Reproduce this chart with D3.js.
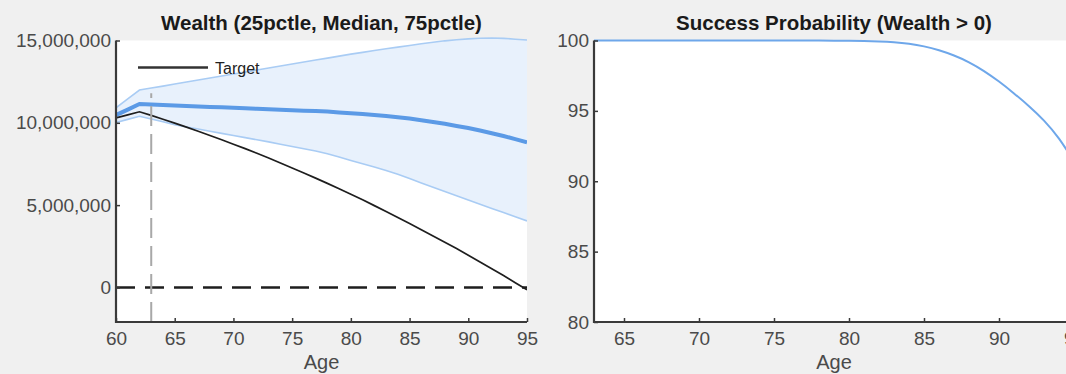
<!DOCTYPE html>
<html>
<head>
<meta charset="utf-8">
<script src="https://cdn.jsdelivr.net/npm/d3@7"></script>
<style>
  html, body { margin: 0; padding: 0; background: #f0f0f0; }
  svg { display: block; font-family: "Liberation Sans", Arial, sans-serif; }
</style>
</head>
<body>
<svg id="chart" width="1066" height="374"></svg>
<script>
// ---------------- DATA ----------------
const ages = [60,61,62,63,64,65,66,67,68,69,70,71,72,73,74,75,76,77,78,79,80,81,82,83,84,85,86,87,88,89,90,91,92,93,94,95];
// wealth in millions
const wealthP75 = [10.91,11.45,11.99,12.11,12.23,12.36,12.48,12.60,12.72,12.84,12.96,13.08,13.21,13.33,13.45,13.57,13.69,13.82,13.93,14.05,14.17,14.28,14.39,14.50,14.60,14.70,14.80,14.89,14.98,15.05,15.10,15.14,15.15,15.13,15.08,15.03];
const wealthMedian = [10.47,10.80,11.14,11.11,11.08,11.05,11.02,10.99,10.96,10.94,10.91,10.88,10.85,10.83,10.80,10.77,10.74,10.71,10.68,10.63,10.58,10.53,10.47,10.41,10.34,10.26,10.16,10.05,9.94,9.81,9.68,9.53,9.37,9.20,9.01,8.81];
const wealthP25 = [10.02,10.21,10.40,10.23,10.06,9.89,9.75,9.62,9.49,9.36,9.23,9.10,8.97,8.84,8.70,8.56,8.42,8.29,8.12,7.92,7.71,7.51,7.31,7.10,6.87,6.61,6.35,6.09,5.83,5.57,5.31,5.06,4.80,4.55,4.30,4.04];
const target = [10.30,10.48,10.67,10.45,10.22,9.98,9.74,9.49,9.23,8.97,8.70,8.43,8.15,7.86,7.56,7.26,6.95,6.64,6.32,5.99,5.66,5.32,4.97,4.61,4.25,3.89,3.51,3.13,2.75,2.36,1.96,1.55,1.14,0.72,0.29,-0.14];
const successAges = [63,64,65,66,67,68,69,70,71,72,73,74,75,76,77,78,79,80,81,82,83,84,85,86,87,88,89,90,91,92,93,94,95];
const successProb = [100,100,100,100,100,100,100,100,100,100,100,100,100,100,100,100,99.99,99.98,99.96,99.93,99.88,99.78,99.60,99.32,98.95,98.48,97.85,97.10,96.25,95.35,94.35,93.10,91.40];
const retirementAge = 63;
const wealthTicks = [0, 5e6, 10e6, 15e6];
const ageTicksLeft = [60,65,70,75,80,85,90,95];
const probTicks = [80,85,90,95,100];
const ageTicksRight = [65,70,75,80,85,90,95];
const titleLeft = "Wealth (25pctle, Median, 75pctle)";
const titleRight = "Success Probability (Wealth > 0)";
const xLabel = "Age";
const legendLabel = "Target";

// ---------------- DRAW ----------------
const svg = d3.select("#chart");
svg.append("rect").attr("width",1066).attr("height",374).attr("fill","#f0f0f0");

const M = 1e6;
const axisColor = "#3a3a3a";
const tickTextColor = "#4a4a4a";

// Left panel
const xL = d3.scaleLinear().domain([60,95]).range([116,527]);
const yL = d3.scaleLinear().domain([-2.1e6,15e6]).range([322,40.5]);

const defs = svg.append("defs");
defs.append("clipPath").attr("id","clipL").append("rect")
  .attr("x",116).attr("y",30).attr("width",411).attr("height",292);

const gL = svg.append("g");
gL.append("rect").attr("x",116).attr("y",40.5).attr("width",411).attr("height",281.5).attr("fill","#ffffff");

const band = ages.map((a,i)=>({a, lo:wealthP25[i]*M, hi:wealthP75[i]*M, med:wealthMedian[i]*M, t:target[i]*M}));
const plot = gL.append("g").attr("clip-path","url(#clipL)");
plot.append("path").datum(band)
  .attr("d", d3.area().x(d=>xL(d.a)).y0(d=>yL(d.lo)).y1(d=>yL(d.hi)))
  .attr("fill","#e8f1fc");
plot.append("path").datum(band)
  .attr("d", d3.line().x(d=>xL(d.a)).y(d=>yL(d.hi)))
  .attr("fill","none").attr("stroke","#a9ccf4").attr("stroke-width",1.6);
plot.append("path").datum(band)
  .attr("d", d3.line().x(d=>xL(d.a)).y(d=>yL(d.lo)))
  .attr("fill","none").attr("stroke","#a9ccf4").attr("stroke-width",1.6);
plot.append("path").datum(band)
  .attr("d", d3.line().x(d=>xL(d.a)).y(d=>yL(d.med)))
  .attr("fill","none").attr("stroke","#5b9ae6").attr("stroke-width",4);
plot.append("path").datum(band)
  .attr("d", d3.line().x(d=>xL(d.a)).y(d=>yL(d.t)))
  .attr("fill","none").attr("stroke","#1e1e1e").attr("stroke-width",1.7);
// zero dashed line
plot.append("line")
  .attr("x1",xL(60)).attr("x2",xL(95)).attr("y1",yL(0)).attr("y2",yL(0))
  .attr("stroke","#1e1e1e").attr("stroke-width",2.4).attr("stroke-dasharray","19,10");
// retirement vertical dashed
plot.append("line")
  .attr("x1",xL(retirementAge)).attr("x2",xL(retirementAge))
  .attr("y1",yL(-2.1e6)).attr("y2",yL(11.8e6))
  .attr("stroke","#a8a8a8").attr("stroke-width",2).attr("stroke-dasharray","20,8");

// legend
gL.append("line").attr("x1",138).attr("x2",208).attr("y1",67.5).attr("y2",67.5)
  .attr("stroke","#333").attr("stroke-width",2.4);
gL.append("text").attr("x",215).attr("y",73.5).attr("font-size",16).attr("fill","#222").text(legendLabel);

// axes left
const axL = gL.append("g").attr("transform","translate(116,0)")
  .call(d3.axisLeft(yL).tickValues(wealthTicks).tickFormat(d3.format(",")).tickSize(-4).tickPadding(5));
const axBL = gL.append("g").attr("transform","translate(0,322)")
  .call(d3.axisBottom(xL).tickValues(ageTicksLeft).tickSize(-4).tickPadding(7));
[axL, axBL].forEach(ax=>{
  ax.select(".domain").remove();
  ax.selectAll(".tick line").attr("stroke",axisColor).attr("stroke-width",1.5);
  ax.selectAll(".tick text").attr("fill",tickTextColor).attr("font-size",19).attr("font-family","Liberation Sans, Arial, sans-serif");
});
axBL.selectAll(".tick text").attr("dy","0.85em");
gL.append("line").attr("x1",116).attr("x2",116).attr("y1",40.5).attr("y2",323).attr("stroke",axisColor).attr("stroke-width",2.2);
gL.append("line").attr("x1",115).attr("x2",527).attr("y1",322).attr("y2",322).attr("stroke",axisColor).attr("stroke-width",2.2);

gL.append("text").attr("x",(116+527)/2).attr("y",30).attr("text-anchor","middle")
  .attr("font-size",20.5).attr("font-weight","bold").attr("fill","#1a1a1a").text(titleLeft);
gL.append("text").attr("x",(116+527)/2).attr("y",369).attr("text-anchor","middle")
  .attr("font-size",20).attr("fill",tickTextColor).text(xLabel);

// Right panel
const xR = d3.scaleLinear().domain([63,95]).range([594,1074]);
const yR = d3.scaleLinear().domain([80,100]).range([322,40.5]);
defs.append("clipPath").attr("id","clipR").append("rect")
  .attr("x",594).attr("y",30).attr("width",480).attr("height",292);
const gR = svg.append("g");
gR.append("rect").attr("x",594).attr("y",40.5).attr("width",480).attr("height",281.5).attr("fill","#ffffff");
const succ = successAges.map((a,i)=>({a, p:successProb[i]}));
gR.append("g").attr("clip-path","url(#clipR)").append("path").datum(succ)
  .attr("d", d3.line().curve(d3.curveBasis).x(d=>xR(d.a)).y(d=>yR(d.p)))
  .attr("fill","none").attr("stroke","#6ea7ea").attr("stroke-width",2);

const axR = gR.append("g").attr("transform","translate(594,0)")
  .call(d3.axisLeft(yR).tickValues(probTicks).tickSize(-4).tickPadding(5));
const axBR = gR.append("g").attr("transform","translate(0,322)")
  .call(d3.axisBottom(xR).tickValues(ageTicksRight).tickSize(-4).tickPadding(7));
[axR, axBR].forEach(ax=>{
  ax.select(".domain").remove();
  ax.selectAll(".tick line").attr("stroke",axisColor).attr("stroke-width",1.5);
  ax.selectAll(".tick text").attr("fill",tickTextColor).attr("font-size",19).attr("font-family","Liberation Sans, Arial, sans-serif");
});
axBR.selectAll(".tick text").attr("dy","0.85em");
gR.append("line").attr("x1",594).attr("x2",594).attr("y1",40.5).attr("y2",323).attr("stroke",axisColor).attr("stroke-width",2.2);
gR.append("line").attr("x1",593).attr("x2",1074).attr("y1",322).attr("y2",322).attr("stroke",axisColor).attr("stroke-width",2.2);

gR.append("text").attr("x",(594+1074)/2).attr("y",30).attr("text-anchor","middle")
  .attr("font-size",20.5).attr("font-weight","bold").attr("fill","#1a1a1a").text(titleRight);
gR.append("text").attr("x",(594+1074)/2).attr("y",369).attr("text-anchor","middle")
  .attr("font-size",20).attr("fill",tickTextColor).text(xLabel);
</script>
</body>
</html>
